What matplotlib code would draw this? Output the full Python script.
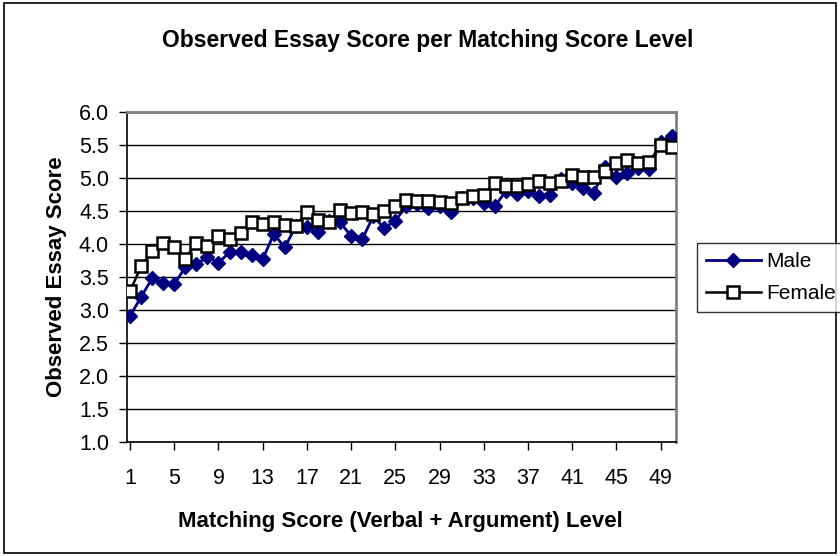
import matplotlib
matplotlib.use("Agg")
import matplotlib.pyplot as plt
from matplotlib.patches import Rectangle

levels = list(range(1, 51))
male = [2.91, 3.20, 3.48, 3.41, 3.39, 3.65, 3.70, 3.80, 3.71, 3.88,
        3.88, 3.84, 3.77, 4.15, 3.95, 4.27, 4.26, 4.18, 4.35, 4.33,
        4.12, 4.07, 4.42, 4.24, 4.35, 4.58, 4.60, 4.55, 4.57, 4.49,
        4.70, 4.69, 4.62, 4.57, 4.80, 4.76, 4.80, 4.73, 4.75, 4.98,
        4.92, 4.85, 4.78, 5.17, 5.02, 5.07, 5.15, 5.13, 5.55, 5.64]
female = [3.29, 3.66, 3.90, 4.01, 3.95, 3.78, 4.01, 3.97, 4.12, 4.07,
          4.17, 4.33, 4.31, 4.33, 4.29, 4.27, 4.49, 4.36, 4.33, 4.52,
          4.47, 4.48, 4.45, 4.50, 4.57, 4.67, 4.65, 4.65, 4.64, 4.62,
          4.69, 4.73, 4.75, 4.93, 4.88, 4.88, 4.91, 4.96, 4.93, 4.96,
          5.05, 5.02, 5.02, 5.10, 5.22, 5.27, 5.22, 5.25, 5.50, 5.47]
xticks = list(range(1, 51, 4))
yticks = [1.0, 1.5, 2.0, 2.5, 3.0, 3.5, 4.0, 4.5, 5.0, 5.5, 6.0]

title = "Observed Essay Score per Matching Score Level"
xlabel = "Matching Score (Verbal + Argument) Level"
ylabel = "Observed Essay Score"

plt.rcParams['font.family'] = ['Liberation Sans', 'DejaVu Sans']

W, H = 840, 556
fig = plt.figure(figsize=(W / 100, H / 100), dpi=100)
ax = fig.add_axes([127 / W, 1 - 442 / H, (676 - 127) / W, (442 - 112) / H])

ax.plot(levels, male, color='#000080', lw=2, marker='D', markersize=7.5,
        markerfacecolor='#000080', markeredgecolor='#000080', label='Male', zorder=3)
ax.plot(levels, female, color='black', lw=1.8, marker='s', markersize=9,
        markerfacecolor='white', markeredgecolor='black', markeredgewidth=1.8,
        label='Female', zorder=4)

ax.set_xlim(0.72, 50.4)
ax.set_ylim(1.0, 6.0)
ax.set_xticks(xticks)
ax.set_xticklabels([str(t) for t in xticks], fontsize=15.5)
ax.set_yticks(yticks)
ax.set_yticklabels([f"{t:.1f}" for t in yticks], fontsize=15.5)
ax.tick_params(axis='both', direction='out', length=6, width=1, color='black')
ax.tick_params(axis='x', pad=13)
ax.tick_params(axis='y', pad=7)
ax.yaxis.grid(True, color='black', lw=1)
ax.set_axisbelow(True)

for side in ['left', 'bottom']:
    ax.spines[side].set_color('black')
    ax.spines[side].set_linewidth(1.2)
for side in ['top', 'right']:
    ax.spines[side].set_color('#808080')
    ax.spines[side].set_linewidth(2)

fig.text(428 / W, 1 - 41 / H, title, ha='center', va='center',
         fontsize=16.5, fontweight='bold')
fig.text(400 / W, 1 - 521 / H, xlabel, ha='center', va='center',
         fontsize=16, fontweight='bold')
fig.text(57 / W, 1 - 277 / H, ylabel, ha='center', va='center',
         fontsize=16, fontweight='bold', rotation=90)

leg = fig.legend(loc='upper left', bbox_to_anchor=(697 / W, 1 - 243 / H),
                 fontsize=15, frameon=True, fancybox=False, borderpad=0.45,
                 handlelength=2.6, handletextpad=0.25, labelspacing=0.6,
                 borderaxespad=0)
leg.get_frame().set_edgecolor('black')
leg.get_frame().set_linewidth(1)

fig.patches.append(Rectangle((4 / W, 3 / H), (836 - 4) / W, (553 - 3) / H,
                             transform=fig.transFigure, fill=False,
                             edgecolor='black', lw=1.2))

fig.savefig("out.png", dpi=100)
